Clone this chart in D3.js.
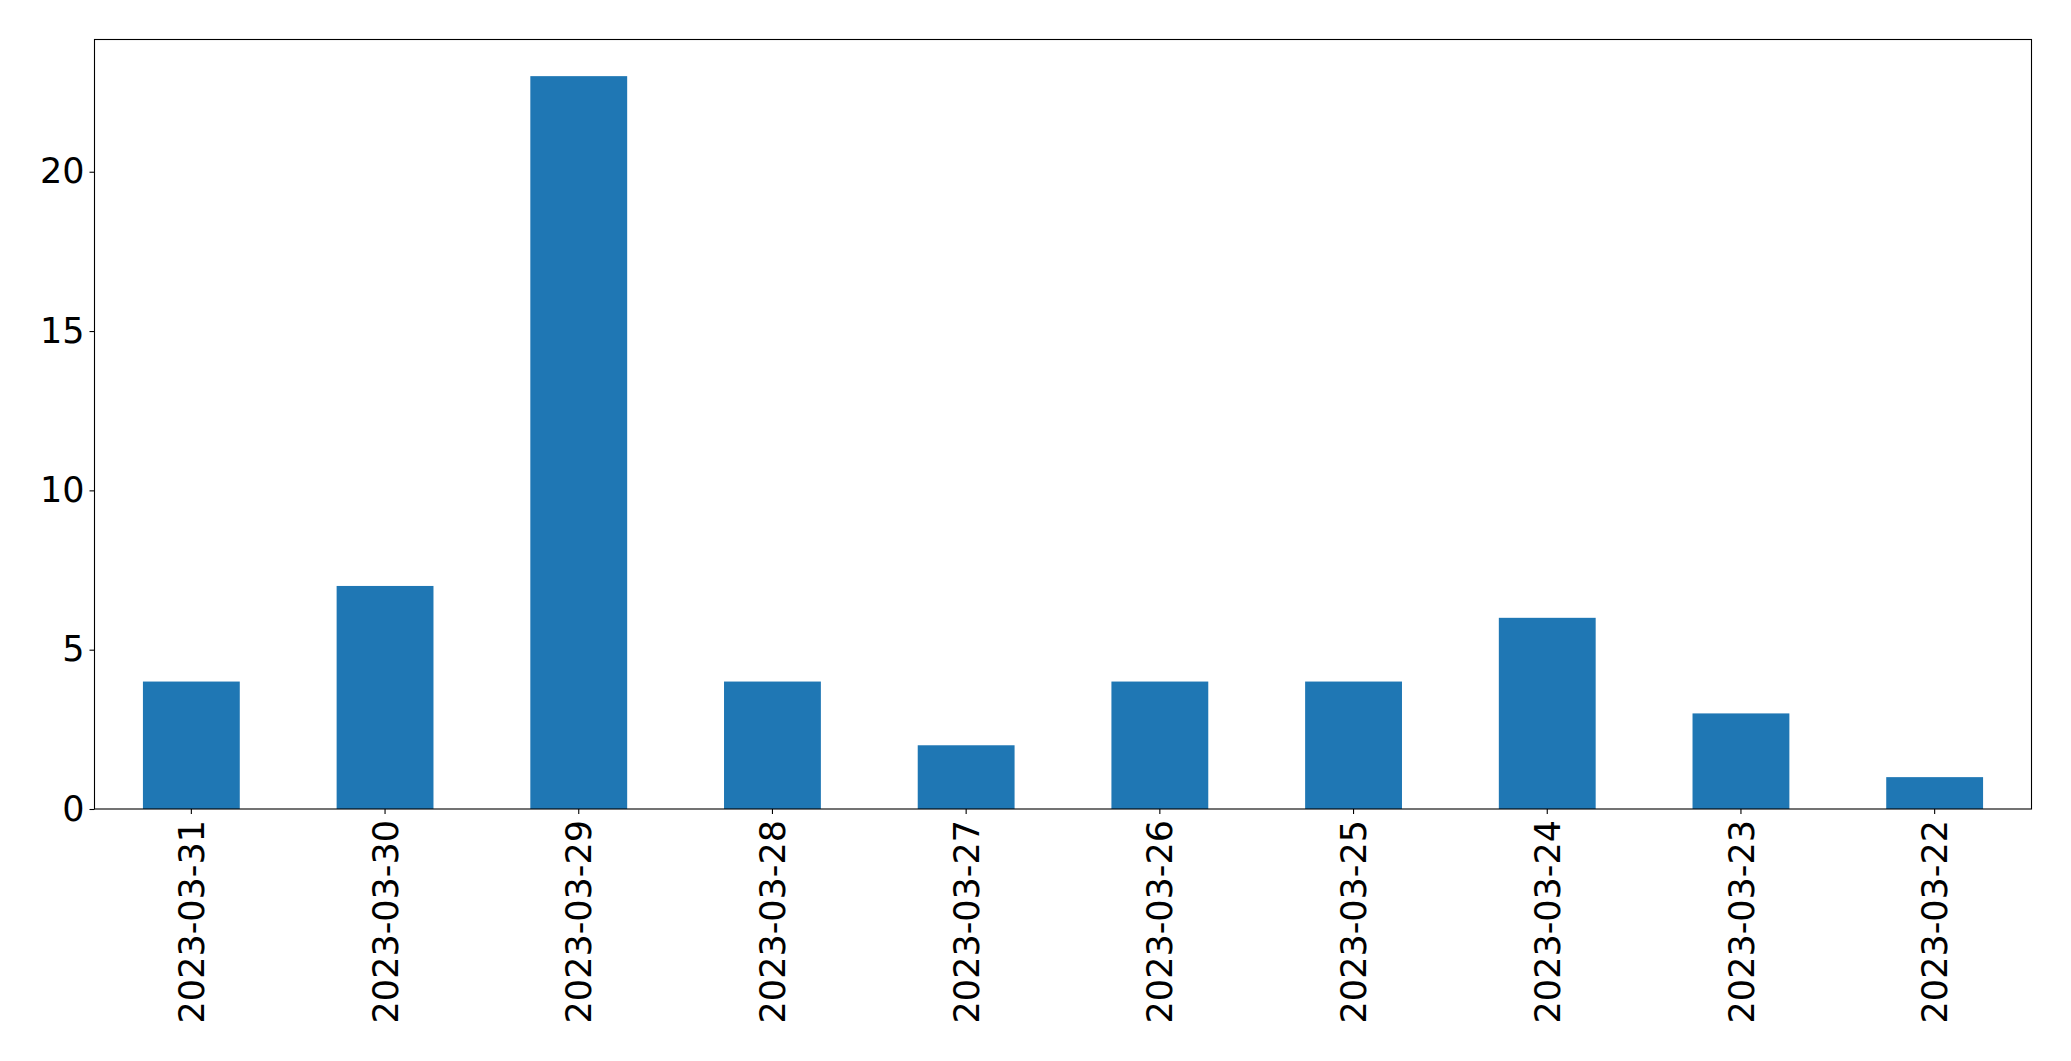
<!DOCTYPE html>
<html lang="en">
<head>
<meta charset="UTF-8" />
<title>Daily counts</title>
<script src="https://d3js.org/d3.v7.min.js"></script>
<style>
  body { margin: 0; background: #fff; }
  svg { display: block; }
  text { font-family: "DejaVu Sans", sans-serif; fill: #000; }
</style>
</head>
<body>
<svg id="chart"></svg>
<script>
  const dates = ["2023-03-31", "2023-03-30", "2023-03-29", "2023-03-28", "2023-03-27",
                 "2023-03-26", "2023-03-25", "2023-03-24", "2023-03-23", "2023-03-22"];
  const counts = [4, 7, 23, 4, 2, 4, 4, 6, 3, 1];
  const yTicks = [0, 5, 10, 15, 20];

  const W = 2071, H = 1061;
  const margin = { top: 39.5, right: 39.5, bottom: 252, left: 94.5 };
  const width = W - margin.left - margin.right;
  const height = H - margin.top - margin.bottom;
  const fontSize = 35;

  const svg = d3.select("#chart").attr("width", W).attr("height", H);
  const g = svg.append("g").attr("transform", "translate(" + margin.left + "," + margin.top + ")");

  const x = d3.scaleBand().domain(dates).range([0, width]).paddingInner(0.5).paddingOuter(0.25);
  const y = d3.scaleLinear().domain([0, d3.max(counts) * 1.05]).range([height, 0]);

  g.selectAll("rect.bar")
    .data(counts)
    .join("rect")
    .attr("class", "bar")
    .attr("x", (d, i) => x(dates[i]))
    .attr("width", x.bandwidth())
    .attr("y", d => y(d))
    .attr("height", d => y(0) - y(d))
    .attr("fill", "#1f77b4");

  // y axis
  const yAxis = g.append("g")
    .call(d3.axisLeft(y).tickValues(yTicks).tickSize(5).tickPadding(5).tickFormat(d3.format("d")));
  yAxis.select(".domain").remove();
  yAxis.selectAll("line").attr("stroke", "#000").attr("stroke-width", 1.1);
  yAxis.selectAll("text").style("font-size", fontSize + "px");

  // x axis
  const xAxis = g.append("g")
    .attr("transform", "translate(0," + height + ")")
    .call(d3.axisBottom(x).tickSize(5).tickPadding(0));
  xAxis.select(".domain").remove();
  xAxis.selectAll("line").attr("stroke", "#000").attr("stroke-width", 1.1);
  xAxis.selectAll("text")
    .style("font-size", fontSize + "px")
    .attr("text-anchor", "end")
    .attr("transform", "rotate(-90)")
    .attr("x", -11)
    .attr("y", 0)
    .attr("dy", "0.36em");

  // frame
  g.append("rect")
    .attr("x", 0).attr("y", 0)
    .attr("width", width).attr("height", height)
    .attr("fill", "none")
    .attr("stroke", "#000")
    .attr("stroke-width", 1.1);
</script>
</body>
</html>
